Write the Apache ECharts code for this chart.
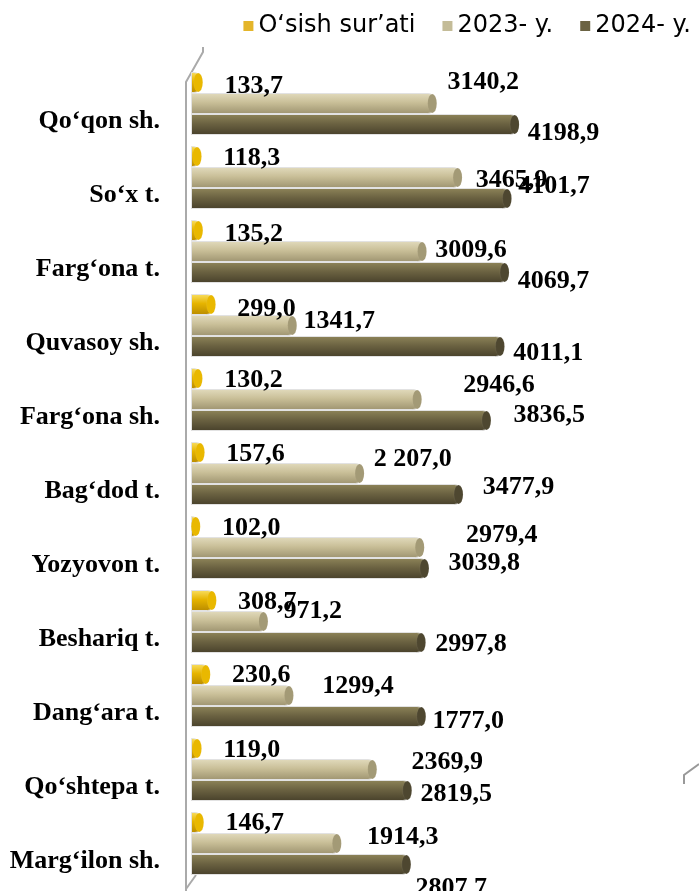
<!DOCTYPE html>
<html>
<head>
<meta charset="utf-8">
<script src="https://cdn.jsdelivr.net/npm/echarts@6/dist/echarts.min.js"></script>
<style>
  html, body { margin: 0; padding: 0; background: #fff; }
  #chart { width: 699px; height: 891px; }
</style>
</head>
<body>
<div id="chart"></div>
<script>
  // hududlar (yuqoridan pastga)
  var categories = ['Qo‘qon sh.', 'So‘x t.', 'Farg‘ona t.', 'Quvasoy sh.', 'Farg‘ona sh.', 'Bag‘dod t.',
    'Yozyovon t.', 'Beshariq t.', 'Dang‘ara t.', 'Qo‘shtepa t.', 'Marg‘ilon sh.'];
  var growth = [133.7, 118.3, 135.2, 299.0, 130.2, 157.6, 102.0, 308.7, 230.6, 119.0, 146.7];
  var y2023 = [3140.2, 3465.9, 3009.6, 1341.7, 2946.6, 2207.0, 2979.4, 971.2, 1299.4, 2369.9, 1914.3];
  // Dang'ara bar is drawn about as long as Beshariq in the picture
  var y2024 = [4198.9, 4101.7, 4069.7, 4011.1, 3836.5, 3477.9, 3039.8, 2997.8, 3000.0, 2819.5, 2807.7];
  var growthLabels = ['133,7', '118,3', '135,2', '299,0', '130,2', '157,6', '102,0', '308,7', '230,6', '119,0', '146,7'];
  var y2023Labels = ['3140,2', '3465,9', '3009,6', '1341,7', '2946,6', '2 207,0', '2979,4', '971,2', '1299,4', '2369,9', '1914,3'];
  var y2024Labels = ['4198,9', '4101,7', '4069,7', '4011,1', '3836,5', '3477,9', '3039,8', '2997,8', '1777,0', '2819,5', '2807,7'];
  var seriesNames = ['O‘sish sur’ati', '2023- y.', '2024- y.'];
  var seriesColors = ['#E4B52A', '#C4BC98', '#6B6343'];

  // label nudges (layout only)
  var growthNudge = [[0, 2], [0, 0], [0, 2], [0, 3], [0, 0], [0, 0], [0, 0], [0, 0], [0, -1], [0, 0], [0, -1]];
  var y2023Nudge = [[12, -23], [15, 1], [10, -3], [8, -6], [43, -16], [11, -16], [43, -14], [17, -12], [30, -11], [36, -9], [27, -8]];
  var y2024Nudge = [[10, 7], [8, -14], [10, 7], [10, 5], [24, -7], [21, -9], [21, -7], [11, 0], [8, 3], [10, 2], [6, 22]];

  function grad(c1, c2, c3) {
    return new echarts.graphic.LinearGradient(0, 0, 0, 1, [
      {offset: 0, color: c1}, {offset: 0.45, color: c2}, {offset: 1, color: c3}
    ]);
  }

  function items(vals, nudge) {
    return vals.map(function (v, i) {
      return {value: v, label: {offset: [nudge[i][0], nudge[i][1] + 2]}};
    });
  }

  var labelFont = {
    fontFamily: 'Liberation Serif',
    fontWeight: 'bold',
    fontSize: 26,
    color: '#000'
  };

  function barSeries(name, vals, labels, nudge, fill, dist) {
    return {
      name: name,
      type: 'bar',
      barWidth: 21,
      barGap: '0%',
      data: items(vals, nudge),
      itemStyle: {
        color: fill,
        borderColor: '#e2e2e2',
        borderWidth: 1,
        borderRadius: [0, 7, 7, 0]
      },
      label: Object.assign({
        show: true,
        position: 'right',
        distance: dist,
        formatter: function (p) { return labels[p.dataIndex]; }
      }, labelFont)
    };
  }

  // round end of each cylinder
  function capSeries(vals, face, ring) {
    return {
      name: 'cap',
      type: 'pictorialBar',
      barWidth: 21,
      barGap: '0%',
      symbol: 'circle',
      symbolSize: [9, 19],
      symbolPosition: 'end',
      symbolOffset: [2, 0],
      z: 3,
      silent: true,
      itemStyle: {color: face, borderColor: ring, borderWidth: 2},
      data: vals
    };
  }

  var chart = echarts.init(document.getElementById('chart'));
  var option = {
    animation: false,
    legend: {
      data: seriesNames.map(function (n, i) {
        return {name: n, itemStyle: {color: seriesColors[i], borderWidth: 0}};
      }),
      right: 3,
      top: 9,
      itemWidth: 10,
      itemHeight: 10,
      itemGap: 27,
      icon: 'rect',
      textStyle: {fontFamily: 'DejaVu Sans', fontSize: 24, color: '#000'}
    },
    grid: {left: 191, right: 41, top: 66.5, bottom: 10.5},
    xAxis: {type: 'value', min: 0, max: 6000, show: false},
    yAxis: {
      type: 'category',
      inverse: true,
      data: categories,
      offset: 5,
      axisLine: {show: false},
      axisTick: {inside: true, length: 14, lineStyle: {color: '#aaa', width: 2}},
      axisLabel: {
        margin: 26,
        verticalAlign: 'top',
        lineHeight: 36,
        fontFamily: 'Liberation Serif',
        fontWeight: 'bold',
        fontSize: 26,
        color: '#000'
      }
    },
    graphic: [
      {type: 'polyline', shape: {points: [[203, 47], [203, 52], [186, 82], [186, 891]]},
        style: {stroke: '#aaa', lineWidth: 2, fill: null}, silent: true},
      {type: 'line', shape: {x1: 186, y1: 889, x2: 196, y2: 875},
        style: {stroke: '#aaa', lineWidth: 2}, silent: true},
      {type: 'polyline', shape: {points: [[699, 764], [684, 775], [684, 784]]},
        style: {stroke: '#999', lineWidth: 2, fill: null}, silent: true}
    ],
    series: [
      barSeries(seriesNames[0], growth, growthLabels, growthNudge, grad('#F9DF62', '#E6B400', '#B98B00'), 23),
      barSeries(seriesNames[1], y2023, y2023Labels, y2023Nudge, grad('#E2DBBD', '#C9BF98', '#9E9470'), 0),
      barSeries(seriesNames[2], y2024, y2024Labels, y2024Nudge, grad('#8E8459', '#6C6342', '#48412B'), 0),
      capSeries(growth, '#E9B800', '#f4f4f4'),
      capSeries(y2023, '#A39A76', '#d8d2b8'),
      capSeries(y2024, '#4E4730', '#f4f4f4')
    ]
  };
  chart.setOption(option);
</script>
</body>
</html>
